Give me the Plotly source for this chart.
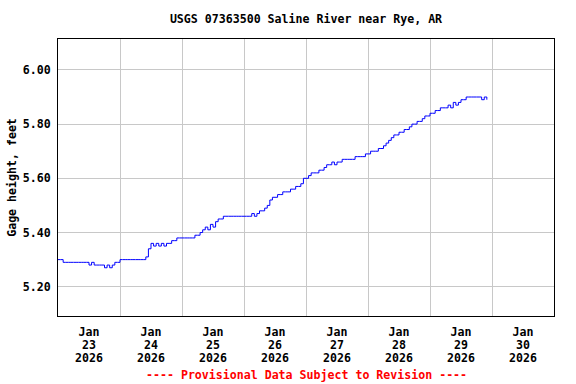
import plotly.graph_objects as go
import pandas as pd

start = "2026-01-23 00:00"
# hourly gage height readings (feet), Jan 23 00:00 onward
day23 = [5.30, 5.30, 5.29, 5.29, 5.29, 5.29, 5.29, 5.29, 5.29, 5.29, 5.29, 5.29,
         5.28, 5.29, 5.28, 5.28, 5.28, 5.28, 5.27, 5.28, 5.27, 5.28, 5.29, 5.29]
day24 = [5.30, 5.30, 5.30, 5.30, 5.30, 5.30, 5.30, 5.30, 5.30, 5.30, 5.31, 5.34,
         5.36, 5.35, 5.36, 5.35, 5.36, 5.35, 5.36, 5.36, 5.37, 5.37, 5.38, 5.38]
day25 = [5.38, 5.38, 5.38, 5.38, 5.38, 5.39, 5.39, 5.40, 5.41, 5.42, 5.41, 5.43,
         5.42, 5.44, 5.45, 5.45, 5.46, 5.46, 5.46, 5.46, 5.46, 5.46, 5.46, 5.46]
day26 = [5.46, 5.46, 5.46, 5.47, 5.46, 5.47, 5.48, 5.48, 5.49, 5.50, 5.52, 5.53,
         5.53, 5.54, 5.54, 5.55, 5.55, 5.55, 5.56, 5.56, 5.57, 5.57, 5.58, 5.60]
day27 = [5.60, 5.61, 5.62, 5.62, 5.62, 5.63, 5.63, 5.64, 5.65, 5.65, 5.66, 5.65,
         5.66, 5.66, 5.67, 5.67, 5.67, 5.67, 5.67, 5.68, 5.68, 5.68, 5.68, 5.69]
day28 = [5.69, 5.70, 5.70, 5.70, 5.71, 5.71, 5.72, 5.73, 5.74, 5.75, 5.76, 5.76,
         5.77, 5.77, 5.78, 5.78, 5.79, 5.80, 5.80, 5.81, 5.81, 5.82, 5.83, 5.83]
day29 = [5.84, 5.84, 5.85, 5.85, 5.86, 5.86, 5.86, 5.87, 5.86, 5.88, 5.87, 5.88,
         5.89, 5.89, 5.90, 5.90, 5.90, 5.90, 5.90, 5.90, 5.89, 5.90, 5.89]

heights = day23 + day24 + day25 + day26 + day27 + day28 + day29
times = pd.date_range(start, periods=len(heights), freq="h")

tick_dates = ["2026-01-23 12:00", "2026-01-24 12:00", "2026-01-25 12:00", "2026-01-26 12:00",
              "2026-01-27 12:00", "2026-01-28 12:00", "2026-01-29 12:00", "2026-01-30 12:00"]
tick_text = ["Jan<br>23<br>2026", "Jan<br>24<br>2026", "Jan<br>25<br>2026", "Jan<br>26<br>2026",
             "Jan<br>27<br>2026", "Jan<br>28<br>2026", "Jan<br>29<br>2026", "Jan<br>30<br>2026"]
y_ticks = [5.20, 5.40, 5.60, 5.80, 6.00]

FONT = "DejaVu Sans Mono"
fs = 11.6


def big_lines(t):
    return "<br>".join('<span style="font-size:11.6px"><b>%s</b></span>' % p for p in t.split("<br>"))


fig = go.Figure()
fig.add_trace(go.Scatter(x=times, y=heights, mode="lines",
                         line=dict(color="#0000ff", width=1, shape="hv"),
                         showlegend=False, hoverinfo="x+y"))

fig.update_layout(
    width=576, height=384,
    margin=dict(l=58, r=22, t=39, b=68),
    paper_bgcolor="white", plot_bgcolor="white",
    font=dict(family=FONT, size=fs, color="black"),
    title=dict(text="<b>USGS 07363500 Saline River near Rye, AR</b>",
               x=0.5, xref="paper", y=1 - 19 / 384, yanchor="middle",
               font=dict(family=FONT, size=fs, color="black")),
    xaxis=dict(range=["2026-01-23 00:00", "2026-01-31 00:00"],
               tickmode="array", tickvals=tick_dates,
               ticktext=[big_lines(t) for t in tick_text],
               showgrid=False, ticks="", showline=True, linecolor="black", linewidth=1,
               mirror=True, zeroline=False, automargin=False, ticklabelstandoff=7,
               minor=dict(tick0="2026-01-23", dtick=86400000, showgrid=True,
                          gridcolor="#c8c8c8", gridwidth=1, ticks=""),
               tickfont=dict(family=FONT, size=10, color="black")),
    yaxis=dict(range=[5.092, 6.114], tickmode="array", tickvals=y_ticks,
               ticktext=["<b>%.2f</b>" % v for v in y_ticks],
               showgrid=True, gridcolor="#c8c8c8", gridwidth=1,
               ticks="", showline=True, linecolor="black", linewidth=1, mirror=True,
               zeroline=False, ticklabelstandoff=4, automargin=False,
               title=dict(text="<b>Gage height, feet</b>", standoff=3,
                          font=dict(family=FONT, size=fs, color="black")),
               tickfont=dict(family=FONT, size=fs, color="black")),
    annotations=[dict(text="<b>---- Provisional Data Subject to Revision ----</b>",
                      xref="paper", yref="paper", x=0.5, y=-0.213,
                      xanchor="center", yanchor="middle", showarrow=False,
                      font=dict(family=FONT, size=fs, color="#ff0000"))],
)

fig.write_html("out.html", config={"displayModeBar": False},
               post_script="document.body.style.margin='0';document.body.style.overflow='hidden';")
